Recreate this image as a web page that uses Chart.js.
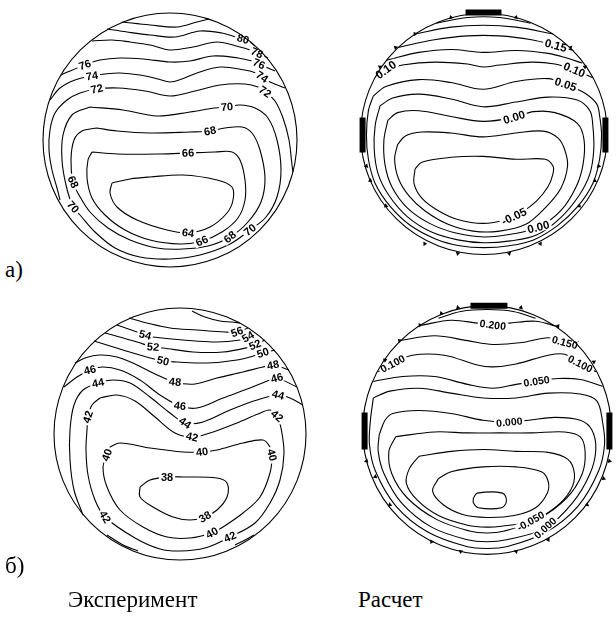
<!DOCTYPE html>
<html><head><meta charset="utf-8">
<script src="https://cdn.jsdelivr.net/npm/chart.js@4.4.1/dist/chart.umd.min.js"></script>
<style>
html,body{margin:0;padding:0;background:#fff;width:616px;height:625px;overflow:hidden;position:relative;font-family:"Liberation Serif","Times New Roman",serif;}
.plot{position:absolute;width:280px;height:280px;}
.txt{position:absolute;font-family:"Liberation Serif","Times New Roman",serif;font-size:23px;color:#000;white-space:nowrap;line-height:23px;}
</style></head><body>
<div class="plot" style="left:30px;top:0px"><canvas id="cA" width="280" height="280"></canvas></div>
<div class="plot" style="left:344px;top:-6px"><canvas id="cB" width="280" height="280"></canvas></div>
<div class="plot" style="left:40px;top:294px"><canvas id="cC" width="280" height="280"></canvas></div>
<div class="plot" style="left:347px;top:290px"><canvas id="cD" width="280" height="280"></canvas></div>
<div class="txt" style="left:5px;top:258px">а)</div>
<div class="txt" style="left:5px;top:554px">б)</div>
<div class="txt" style="left:68px;top:588px">Эксперимент</div>
<div class="txt" style="left:358px;top:588px">Расчет</div>
<script>
// ---------- Plot A (experiment, a) ----------
const a82 = [[-48,-118],[-20,-115],[7,-113],[27,-118],[39,-121]];
const a80 = [[-63,-111],[-43,-108],[-20,-105],[5,-103],[30,-109],[52,-107],[66,-103],[73,-101],[80,-98],[85,-94]];
const a78 = [[-78,-99],[-58,-100],[-40,-98],[-20,-95],[0,-90],[23,-93],[47,-98],[70,-93],[80,-90],[87,-87],[94,-84],[98,-82]];
const a76 = [[-109,-65],[-100,-69],[-85,-75],[-70,-80],[-50,-82],[-27,-81],[0,-78],[20,-79],[43,-84],[68,-82],[82,-79],[89,-76],[98,-72],[105,-69]];
const a74 = [[-120,-40],[-110,-52],[-95,-60],[-78,-64],[-65,-66],[-50,-67],[-30,-65],[-12,-61],[0,-58],[12,-61],[27,-67],[50,-73],[75,-70],[86,-67],[92,-63],[100,-58],[115,-52]];
const a72 = [[-110,60],[-113,48],[-118,30],[-121,10],[-120,-10],[-115,-27],[-103,-40],[-90,-47],[-73,-51],[-52,-52],[-25,-49],[0,-44],[25,-49],[50,-55],[75,-56],[88,-53],[95,-48],[105,-39],[113,-22],[119,0],[122,25],[123,32]];
const a70 = [[-80,-33],[-47,-30],[-13,-24],[20,-28],[45,-32],[57,-33],[70,-35],[85,-32],[98,-22],[107,0],[111,30],[107,57],[96,77],[80,90],[60,104],[30,115],[0,119],[-30,117],[-55,108],[-75,92],[-90,75],[-97,67],[-104,45],[-108,20],[-107,-5],[-98,-25],[-80,-33]];
const a68 = [[-73,-12],[-53,-9],[-20,-7],[20,-8],[40,-9],[55,-12],[72,-13],[82,-7],[90,10],[95,38],[91,62],[78,82],[60,97],[38,106],[13,109],[-13,108],[-40,100],[-62,88],[-80,72],[-91,55],[-97,42],[-99,20],[-96,0],[-88,-9],[-73,-12]];
const a66 = [[-78,12],[-53,14],[-10,14],[18,13],[45,12],[62,12],[70,20],[75,40],[75,60],[68,78],[52,92],[32,101],[10,104],[-20,100],[-45,90],[-65,75],[-78,58],[-83,38],[-82,20],[-78,12]];
const a64 = [[-58,43],[-40,39],[-20,37],[13,35],[47,40],[62,47],[63,60],[57,73],[40,87],[18,93],[-3,90],[-33,80],[-53,67],[-60,53],[-58,43]];
const aLabels = [
 ["80",a80,73,-101],["78",a78,87,-87],["76",a76,89,-76],["74",a74,92,-63],["72",a72,95,-48],
 ["70",a70,57,-33],["68",a68,40,-9],["66",a66,18,13],["64",a64,18,93],["66",a66,32,101],["68",a68,60,97],["70",a70,80,90],
 ["76",a76,-85,-75],["74",a74,-78,-64],["72",a72,-73,-51],["68",a68,-97,42],["70",a70,-97,67]
];

// ---------- Plot B (calculation, a) ----------
const b1 = [[-49,-114],[-17,-120],[16,-120],[48,-114]];
const b2 = [[-71,-103],[-34,-110],[-1,-112],[33,-110],[71,-103]];
const b3 = [[-89,-89],[-51,-97],[-17,-101],[16,-101],[49,-97],[74,-91],[92,-86]];
const b4 = [[-100,-76],[-67,-84],[-34,-87],[-1,-84],[33,-86],[66,-83],[86,-78],[101,-73]];
const b5 = [[-112,-58],[-101,-66],[-84,-71],[-51,-74],[-17,-72],[-1,-69],[16,-71],[49,-74],[73,-72],[93,-66],[112,-58]];
const b6 = [[-114,-39],[-119,-24],[-121,1],[-119,26],[-112,51],[-97,74],[-76,94],[-50,108],[-25,115],[0,117],[26,115],[51,109],[76,94],[97,74],[112,51],[119,26],[121,1],[119,-19],[116,-31],[104,-42],[84,-51],[66,-57],[33,-54],[-1,-46],[-34,-53],[-67,-56],[-101,-49],[-114,-39]];
const b7 = [[-107,-29],[-112,-9],[-113,16],[-109,41],[-98,63],[-79,85],[-54,101],[-27,109],[0,112],[27,110],[54,104],[79,86],[98,63],[109,41],[113,16],[112,-9],[109,-24],[96,-35],[66,-38],[33,-33],[-1,-28],[-34,-36],[-67,-41],[-94,-37],[-107,-29]];
const b8 = [[-99,-14],[-103,6],[-102,31],[-95,54],[-79,76],[-56,92],[-29,102],[0,106],[29,103],[56,96],[79,79],[95,54],[102,31],[103,6],[96,-11],[73,-22],[51,-23],[31,-17],[-1,-13],[-34,-18],[-67,-24],[-89,-22],[-99,-14]];
const b9 = [[-89,11],[-92,26],[-88,46],[-77,64],[-61,79],[-37,93],[-11,100],[16,100],[43,93],[63,76],[79,56],[86,33],[83,16],[76,4],[61,-3],[33,-1],[-1,3],[-34,-1],[-64,-2],[-81,2],[-89,11]];
const b10 = [[-71,36],[-72,51],[-64,66],[-47,79],[-27,88],[-1,92],[23,88],[38,81],[54,69],[66,54],[71,41],[71,33],[63,26],[33,26],[-1,23],[-34,24],[-64,29],[-71,36]];
const bLabels = [["0.15",b3,74,-91],["0.10",b5,-101,-66],["0.10",b5,93,-66],["0.05",b6,84,-51],["0.00",b8,31,-17],["-0.05",b10,31,85],["0.00",b8,56,96]];
const bBars = [[[-19,-125],[18,-125]],[[-125,-17],[-125,19]],[[125,-17],[125,19]]];
const bTri = [[-34,-120],[33,-120],[-71,-103],[-91,-89],[-107,-69],[89,-89],[104,-69],[-121,33],[-117,48],[-101,74],[-61,113],[-27,123],[26,123],[58,113],[98,74],[114,48],[118,33]];

// ---------- Plot C (experiment, б) ----------
const c58 = [[12,-123],[25,-117],[40,-113],[52,-112],[60,-111]];
const c56 = [[-51,-116],[-33,-111],[-10,-106],[17,-104],[45,-102],[57,-102],[68,-106]];
const c54 = [[-63,-109],[-43,-102],[-35,-99],[-27,-97],[3,-94],[37,-92],[60,-94],[68,-97],[75,-101]];
const c52 = [[-75,-101],[-43,-92],[-27,-87],[-17,-86],[13,-82],[43,-82],[70,-87],[75,-89],[85,-94]];
const c50 = [[-86,-93],[-57,-84],[-30,-76],[-17,-73],[-3,-72],[27,-71],[57,-74],[77,-79],[83,-81],[95,-84]];
const c48 = [[-105,-71],[-95,-76],[-80,-79],[-63,-77],[-45,-70],[-25,-60],[-5,-52],[15,-50],[37,-56],[63,-62],[83,-67],[93,-69],[109,-64]];
const c46 = [[-116,-47],[-103,-57],[-90,-64],[-77,-67],[-60,-64],[-40,-54],[-20,-39],[0,-28],[17,-26],[43,-36],[70,-46],[90,-54],[97,-56],[117,-47]];
const c44 = [[-97,81],[-106,56],[-110,26],[-110,-4],[-106,-29],[-97,-44],[-82,-51],[-67,-54],[-50,-51],[-30,-37],[-10,-21],[5,-11],[23,-12],[50,-24],[77,-34],[98,-39],[110,-36],[123,-29]];
const c42 = [[-80,-36],[-63,-39],[-45,-33],[-25,-17],[-5,-1],[12,3],[30,-1],[57,-11],[78,-20],[90,-24],[97,-18],[101,-6],[104,19],[100,46],[90,69],[75,89],[50,103],[25,114],[0,117],[-20,115],[-45,104],[-75,83],[-85,66],[-92,41],[-94,16],[-93,-4],[-92,-17],[-88,-29],[-80,-36]];
const c40 = [[-70,13],[-60,9],[-30,14],[3,18],[22,18],[37,16],[63,9],[83,6],[90,13],[92,21],[90,39],[80,63],[63,79],[43,93],[32,99],[10,104],[-13,103],[-37,93],[-60,76],[-73,53],[-77,33],[-73,21],[-70,13]];
const c38 = [[-40,53],[-30,46],[-13,43],[3,43],[37,44],[47,49],[47,63],[37,76],[25,83],[10,86],[-7,83],[-27,73],[-40,63],[-40,53]];
const cEdgeL = [[-73,101],[-57,111],[-42,117]];
const cEdgeR = [[55,111],[65,106],[74,101]];
const cLabels = [
 ["56",c56,57,-102],["54",c54,68,-97],["52",c52,75,-89],["50",c50,83,-81],["48",c48,93,-69],["46",c46,97,-56],["44",c44,98,-39],["42",c42,97,-18],
 ["54",c54,-35,-99],["52",c52,-27,-87],["50",c50,-17,-73],["48",c48,-5,-52],["46",c46,0,-28],["44",c44,5,-11],["42",c42,12,3],["40",c40,22,18],
 ["46",c46,-90,-64],["44",c44,-82,-51],["42",c42,-92,-17],["40",c40,-73,21],["40",c40,92,21],
 ["38",c38,-13,43],["38",c38,25,83],["42",c42,-75,83],["40",c40,32,99],["42",c42,50,103]
];

// ---------- Plot D (calculation, б) ----------
const d1 = [[-50,-115],[-27,-122],[0,-124],[27,-122],[50,-115]];
const d2 = [[-67,-108],[-37,-113],[-10,-110],[6,-108],[23,-110],[50,-112],[71,-107]];
const d3 = [[-90,-92],[-54,-97],[-20,-92],[6,-88],[36,-90],[63,-95],[80,-90],[95,-86]];
const d4 = [[-112,-60],[-97,-68],[-77,-77],[-44,-77],[-10,-67],[6,-65],[30,-68],[63,-77],[80,-78],[96,-68],[112,-60]];
const d5 = [[-117,-50],[-87,-55],[-54,-55],[-20,-47],[6,-43],[30,-47],[51,-50],[73,-53],[96,-52],[119,-45]];
const d6 = [[-117,-33],[-100,-40],[-70,-43],[-37,-38],[-4,-33],[30,-33],[63,-38],[96,-37],[113,-30],[119,-8],[121,15],[115,42],[94,78],[61,105],[21,120],[0,122],[-21,120],[-61,105],[-94,78],[-115,42],[-121,15],[-120,-10],[-117,-33]];
const d7 = [[-111,5],[-105,-10],[-97,-17],[-70,-20],[-37,-17],[-4,-10],[23,-8],[43,-10],[70,-13],[96,-10],[108,0],[112,20],[106,45],[88,75],[60,101],[20,113],[0,115],[-20,113],[-57,100],[-88,75],[-106,45],[-112,22],[-111,5]];
const d8 = [[-94,7],[-54,2],[-20,3],[13,3],[46,3],[80,2],[96,7],[101,22],[98,45],[82,70],[52,92],[18,104],[0,106],[-18,104],[-52,92],[-82,70],[-98,45],[-101,22],[-94,7]];
const d9 = [[-70,27],[-37,22],[-4,20],[30,22],[63,23],[83,30],[90,45],[86,62],[70,80],[45,94],[15,99],[0,100],[-20,98],[-50,88],[-72,72],[-83,55],[-80,40],[-70,27]];
const d10 = [[-50,50],[-37,43],[-4,38],[30,38],[56,43],[63,53],[62,65],[50,80],[28,88],[0,90],[-25,87],[-45,77],[-56,63],[-50,50]];
const d11 = [[-14,70],[-10,65],[16,65],[20,73],[15,80],[-9,80],[-14,75],[-14,70]];
const dLabels = [["0.200",d2,6,-108],["0.150",d3,80,-90],["0.100",d4,-97,-68],["0.100",d4,96,-68],["0.050",d5,51,-50],["0.000",d7,23,-8],["-0.050",d9,45,94],["0.000",d7,60,101]];
const dBars = [[[-17,-128],[21,-128]],[[-126,-18],[-126,20]],[[126,-18],[126,20]]];
const dTri = [[-47,-120],[-30,-126],[35,-126],[-69,-108],[-90,-92],[-105,-72],[73,-107],[93,-90],[110,-70],[-124,32],[-115,48],[-100,77],[-57,115],[-27,125],[30,125],[63,113],[103,77],[120,50],[126,32]];

// ---------- rendering ----------
const toXY = a => a.map(p => ({x:p[0], y:p[1]}));

const boundaryPlugin = {
  id:'boundary',
  afterDraw(chart, args, o){
    const xs = chart.scales.x, ys = chart.scales.y, ctx = chart.ctx;
    const cx = xs.getPixelForValue(0), cy = ys.getPixelForValue(0);
    const rx = Math.abs(xs.getPixelForValue(o.rx) - cx), ry = Math.abs(ys.getPixelForValue(o.ry) - cy);
    ctx.save(); ctx.strokeStyle = '#000'; ctx.lineWidth = 1.1;
    ctx.beginPath(); ctx.ellipse(cx, cy, rx, ry, 0, 0, Math.PI*2); ctx.stroke(); ctx.restore();
  }
};

const labelPlugin = {
  id:'clabels',
  afterDatasetsDraw(chart, args, o){
    const xs = chart.scales.x, ys = chart.scales.y, ctx = chart.ctx;
    ctx.save(); ctx.font = o.font;
    const prep = o.items.map(([t, arr, x, y]) => {
      const px = xs.getPixelForValue(x), py = ys.getPixelForValue(y);
      let best = 0, bd = Infinity;
      for (let i = 0; i < arr.length - 1; i++) {
        const mx = (arr[i][0] + arr[i+1][0]) / 2, my = (arr[i][1] + arr[i+1][1]) / 2;
        const d = (mx - x) ** 2 + (my - y) ** 2;
        if (d < bd) { bd = d; best = i; }
      }
      const a = arr[best], b = arr[best+1];
      let ang = Math.atan2(ys.getPixelForValue(b[1]) - ys.getPixelForValue(a[1]), xs.getPixelForValue(b[0]) - xs.getPixelForValue(a[0]));
      if (ang > Math.PI/2) ang -= Math.PI;
      if (ang < -Math.PI/2) ang += Math.PI;
      return {t, px, py, ang, w: ctx.measureText(t).width};
    });
    prep.forEach(p => {
      ctx.save(); ctx.translate(p.px, p.py); ctx.rotate(p.ang);
      ctx.fillStyle = '#fff'; ctx.fillRect(-p.w/2 - 2, -4.5, p.w + 4, 9); ctx.restore();
    });
    prep.forEach(p => {
      ctx.save(); ctx.translate(p.px, p.py); ctx.rotate(p.ang);
      ctx.fillStyle = '#000'; ctx.textAlign = 'center'; ctx.textBaseline = 'middle';
      ctx.fillText(p.t, 0, 0.5); ctx.restore();
    });
    ctx.restore();
  }
};

function makePlot(id, lineArrs, labels, rx, ry, bars, tris, font) {
  const datasets = lineArrs.map(a => ({
    data: toXY(a), showLine: true, borderColor: '#000', borderWidth: 1.1,
    pointRadius: 0, tension: 0.35, fill: false, clip: false
  }));
  (bars || []).forEach(a => datasets.push({
    data: toXY(a), showLine: true, borderColor: '#000', borderWidth: 6, borderCapStyle: 'butt',
    pointRadius: 0, tension: 0, fill: false, clip: false
  }));
  if (tris) datasets.push({
    data: toXY(tris), showLine: false, pointStyle: 'triangle', pointRadius: 2.6,
    pointBackgroundColor: '#000', pointBorderColor: '#000', pointBorderWidth: 0, clip: false,
    pointRotation: c => c.raw ? Math.atan2(c.raw.y, c.raw.x) * 180 / Math.PI + 90 : 0
  });
  new Chart(document.getElementById(id), {
    type: 'scatter',
    data: { datasets },
    options: {
      responsive: false, animation: false, events: [],
      layout: { padding: 0 },
      scales: {
        x: { type: 'linear', min: -140, max: 140, display: false },
        y: { type: 'linear', min: -140, max: 140, reverse: true, display: false }
      },
      plugins: {
        legend: { display: false }, tooltip: { enabled: false },
        boundary: { rx, ry },
        clabels: { items: labels, font }
      }
    },
    plugins: [labelPlugin, boundaryPlugin]
  });
}

makePlot('cA', [a82,a80,a78,a76,a74,a72,a70,a68,a66,a64], aLabels, 127, 127, null, null, 'bold 11px "Liberation Sans", Arial, sans-serif');
makePlot('cB', [b1,b2,b3,b4,b5,b6,b7,b8,b9,b10], bLabels, 127, 124, bBars, bTri, 'bold 11.5px "Liberation Sans", Arial, sans-serif');
makePlot('cC', [c58,c56,c54,c52,c50,c48,c46,c44,c42,c40,c38,cEdgeL,cEdgeR], cLabels, 126, 126, null, null, 'bold 11px "Liberation Sans", Arial, sans-serif');
makePlot('cD', [d1,d2,d3,d4,d5,d6,d7,d8,d9,d10,d11], dLabels, 128, 128, dBars, dTri, 'bold 10.5px "Liberation Sans", Arial, sans-serif');
</script>
</body></html>
